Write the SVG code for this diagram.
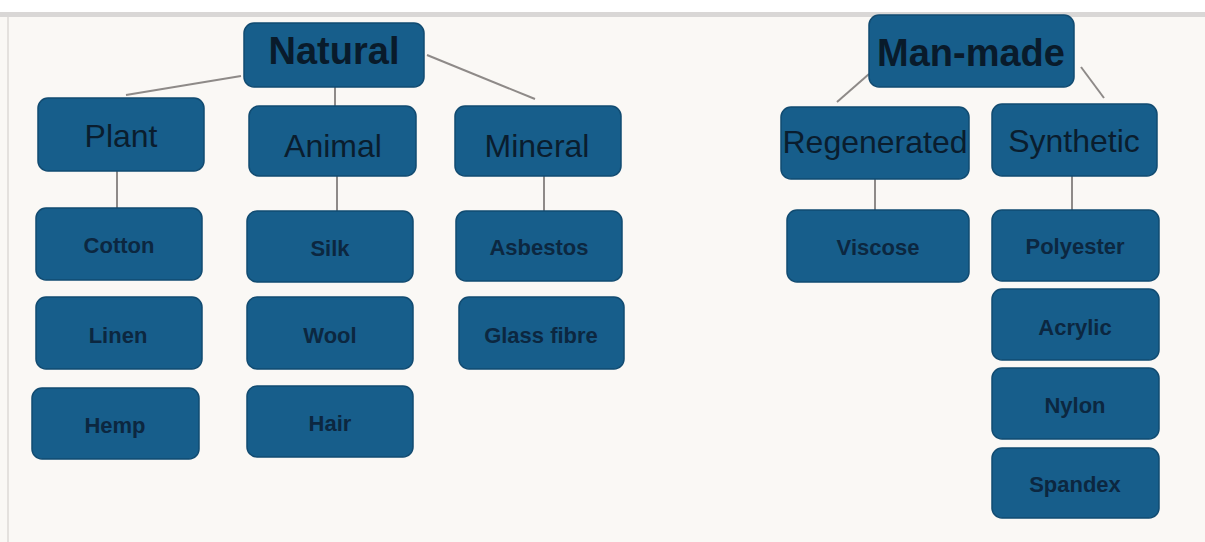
<svg xmlns="http://www.w3.org/2000/svg" width="1205" height="542" viewBox="0 0 1205 542">
<style>
.bx{fill:#175e8b;stroke:#114b71;stroke-width:1.5}
.t1{font-family:"Liberation Sans",Arial,sans-serif;font-weight:bold;font-size:38px;fill:#091b2b;text-anchor:middle}
.t2{font-family:"Liberation Sans",Arial,sans-serif;font-size:32px;fill:#0a1d2e;text-anchor:middle}
.t3{font-family:"Liberation Sans",Arial,sans-serif;font-weight:bold;font-size:22px;fill:#0c2740;text-anchor:middle}
.ln{stroke:#8e8a88;stroke-width:2;fill:none}
</style>
<rect x="0" y="0" width="1205" height="542" fill="#faf8f5"/>
<rect x="0" y="0" width="1205" height="12" fill="#ffffff"/>
<rect x="0" y="12" width="1205" height="5" fill="#d9d7d6"/>
<line x1="8" y1="17" x2="8" y2="542" stroke="#e4e1de" stroke-width="2"/>
<g id="connectors">
<line class="ln" x1="241" y1="76" x2="126" y2="95"/>
<line class="ln" x1="335" y1="87" x2="335" y2="106"/>
<line class="ln" x1="427" y1="55" x2="535" y2="99"/>
<line class="ln" x1="117" y1="171" x2="117" y2="208"/>
<line class="ln" x1="337" y1="176" x2="337" y2="211"/>
<line class="ln" x1="544" y1="176" x2="544" y2="211"/>
<line class="ln" x1="869" y1="74" x2="837" y2="102"/>
<line class="ln" x1="1081" y1="67" x2="1104" y2="98"/>
<line class="ln" x1="875" y1="179" x2="875" y2="210"/>
<line class="ln" x1="1072" y1="176" x2="1072" y2="210"/>
</g>
<g id="natural"><rect class="bx" x="244" y="23" width="180" height="64" rx="10"/><text class="t1" x="334" y="64">Natural</text></g>
<g id="manmade"><rect class="bx" x="869" y="15" width="205" height="72" rx="10"/><text class="t1" x="971" y="66">Man-made</text></g>
<g id="plant"><rect class="bx" x="38" y="98" width="166" height="73" rx="10"/><text class="t2" x="121" y="147">Plant</text></g>
<g id="animal"><rect class="bx" x="249" y="106" width="167" height="70" rx="10"/><text class="t2" x="333" y="157">Animal</text></g>
<g id="mineral"><rect class="bx" x="455" y="106" width="166" height="70" rx="10"/><text class="t2" x="537" y="157">Mineral</text></g>
<g id="regenerated"><rect class="bx" x="781" y="107" width="188" height="72" rx="10"/><text class="t2" x="875" y="153">Regenerated</text></g>
<g id="synthetic"><rect class="bx" x="992" y="104" width="165" height="72" rx="10"/><text class="t2" x="1074" y="152">Synthetic</text></g>
<g id="cotton"><rect class="bx" x="36" y="208" width="166" height="72" rx="10"/><text class="t3" x="119" y="253">Cotton</text></g>
<g id="linen"><rect class="bx" x="36" y="297" width="166" height="72" rx="10"/><text class="t3" x="118" y="343">Linen</text></g>
<g id="hemp"><rect class="bx" x="32" y="388" width="167" height="71" rx="10"/><text class="t3" x="115" y="433">Hemp</text></g>
<g id="silk"><rect class="bx" x="247" y="211" width="166" height="71" rx="10"/><text class="t3" x="330" y="256">Silk</text></g>
<g id="wool"><rect class="bx" x="247" y="297" width="166" height="72" rx="10"/><text class="t3" x="330" y="343">Wool</text></g>
<g id="hair"><rect class="bx" x="247" y="386" width="166" height="71" rx="10"/><text class="t3" x="330" y="431">Hair</text></g>
<g id="asbestos"><rect class="bx" x="456" y="211" width="166" height="70" rx="10"/><text class="t3" x="539" y="255">Asbestos</text></g>
<g id="glassfibre"><rect class="bx" x="459" y="297" width="165" height="72" rx="10"/><text class="t3" x="541" y="343">Glass fibre</text></g>
<g id="viscose"><rect class="bx" x="787" y="210" width="182" height="72" rx="10"/><text class="t3" x="878" y="255">Viscose</text></g>
<g id="polyester"><rect class="bx" x="992" y="210" width="167" height="71" rx="10"/><text class="t3" x="1075" y="254">Polyester</text></g>
<g id="acrylic"><rect class="bx" x="992" y="289" width="167" height="71" rx="10"/><text class="t3" x="1075" y="335">Acrylic</text></g>
<g id="nylon"><rect class="bx" x="992" y="368" width="167" height="71" rx="10"/><text class="t3" x="1075" y="413">Nylon</text></g>
<g id="spandex"><rect class="bx" x="992" y="448" width="167" height="70" rx="10"/><text class="t3" x="1075" y="492">Spandex</text></g>
</svg>
